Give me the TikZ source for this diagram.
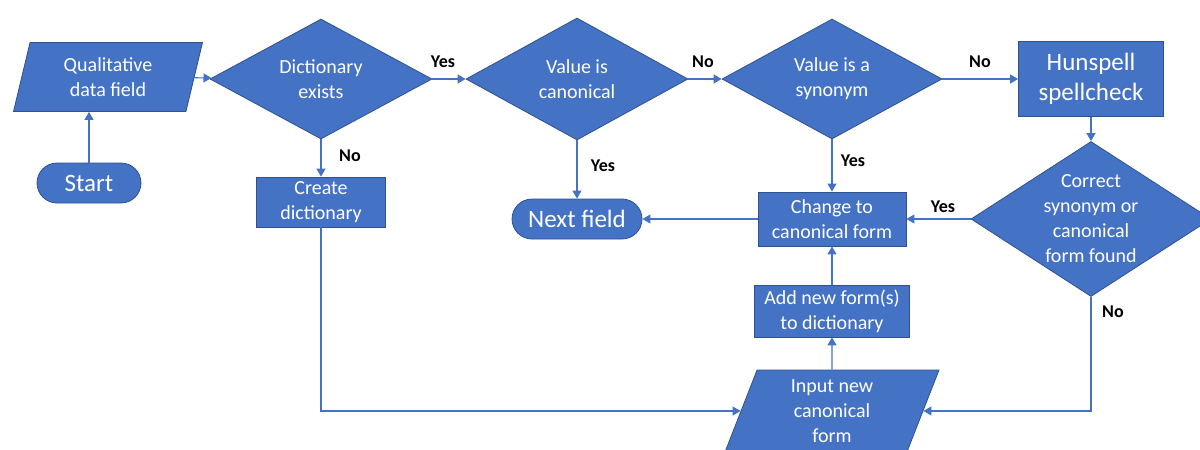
\documentclass[tikz,border=0pt]{standalone}
\usepackage{fontspec}
\setmainfont{Carlito}
\usetikzlibrary{shapes.geometric,arrows.meta}
\definecolor{boxblue}{HTML}{4472C4}
\definecolor{edgeblue}{HTML}{2F528F}

\begin{document}
\begin{tikzpicture}
        [
        x=0.5pt, y=-0.5pt,
        align=center,
        font=\fontsize{10}{12.5}\selectfont,
        base/.style={fill=boxblue, draw=edgeblue, line width=0.4pt, text=white, inner sep=0pt},
        decision/.style={base, diamond, aspect=1.8},
        process/.style={base, rectangle},
        terminal/.style={base, rectangle, rounded corners=10pt, minimum height=20pt, font=\fontsize{12.5}{15}\selectfont},
        io/.style={base, trapezium, trapezium stretches body},
        answer/.style={font=\fontsize{9}{11}\selectfont\bfseries, text=black, inner sep=0pt},
        flow/.style={draw=boxblue, line width=0.6pt, -{Triangle[length=4pt,width=4.5pt]}},
        ]
                \useasboundingbox (0,0) rectangle (1200,450);

                % terminals
                \node[terminal, minimum width=52pt] (start) at  (89, 183) {Start};
                \node[terminal, minimum width=65pt] (next) at   (577, 219) {Next field};

                % input / output
                \node[io, minimum width=94.5pt, minimum height=34.5pt,
                      trapezium left angle=67, trapezium right angle=113] (qual) at (108, 77) {Qualitative\\data field};
                \node[io, minimum width=107pt, minimum height=41pt,
                      trapezium left angle=63, trapezium right angle=117] (input) at (832, 411) {Input new\\canonical\\form};

                % decisions
                \node[decision, minimum width=111pt, minimum height=60pt] (dict) at   (321, 79) {Dictionary\\exists};
                \node[decision, minimum width=111pt, minimum height=61pt] (canon) at  (577, 79) {Value is\\canonical};
                \node[decision, minimum width=110pt, minimum height=60pt] (syn) at    (832, 79) {Value is a\\synonym};
                \node[decision, minimum width=120pt, minimum height=77.5pt, aspect=1.55, inner sep=-4pt] (found) at (1091, 219)
                      {Correct\\synonym or\\canonical\\form found};

                % processes
                \node[process, minimum width=72.5pt, minimum height=37.5pt, font=\fontsize{12.5}{15}\selectfont] (hun) at (1091, 79) {Hunspell\\spellcheck};
                \node[process, minimum width=64.5pt, minimum height=25pt] (create) at (321, 202) {Create\\dictionary};
                \node[process, minimum width=74pt, minimum height=27pt] (change) at   (832, 219) {Change to\\canonical form};
                \node[process, minimum width=77.5pt, minimum height=26pt] (addnew) at (832, 311) {Add new form(s)\\to dictionary};

                % answers
                \node[answer] (a1) at  (443, 62) {Yes};
                \node[answer] (a2) at  (703, 62) {No};
                \node[answer] (a3) at  (980, 62) {No};
                \node[answer] (a4) at  (350, 156) {No};
                \node[answer] (a5) at  (603, 166) {Yes};
                \node[answer] (a6) at  (853, 161) {Yes};
                \node[answer] (a7) at  (943, 207) {Yes};
                \node[answer] (a8) at  (1113, 312) {No};

                % drawing code
                \draw[flow] (start) -- (start |- qual.south);
                \foreach \from/\to in {qual/dict,dict/canon,canon/syn,syn/hun,hun/found,dict/create,canon/next,syn/change,found/change,change/next,input/addnew,addnew/change}
                        \draw[flow] (\from) -- (\to);
                \draw[flow] (create.south) |- (input.west);
                \draw[flow] (found.south) |- (input.east);
        \end{tikzpicture}
\end{document}
